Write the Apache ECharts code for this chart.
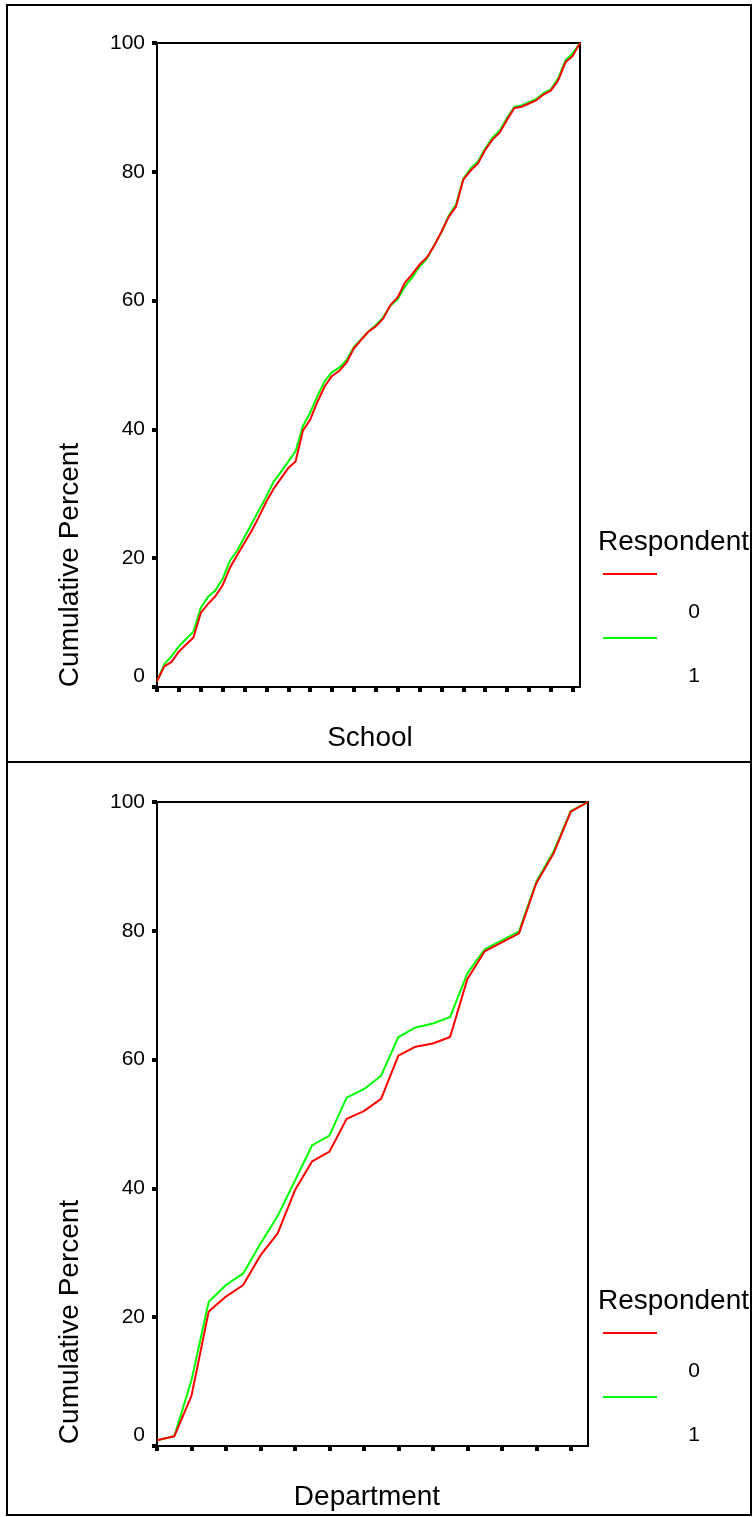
<!DOCTYPE html>
<html>
<head>
<meta charset="utf-8">
<script src="https://cdn.jsdelivr.net/npm/echarts@6/dist/echarts.min.js"></script>
<style>
  html, body { margin: 0; padding: 0; background: #ffffff; }
  #chart { width: 755px; height: 1517px; }
</style>
</head>
<body>
<div id="chart"></div>
<script>
// Cumulative percent by school, split by respondent flag (0 / 1)
const schoolRespondent0 = [
  0.9, 3.2, 3.9, 5.5, 6.6, 7.7, 11.5, 12.9, 14.1, 15.8,
  18.5, 20.5, 22.4, 24.3, 26.5, 28.8, 30.8, 32.4, 34.0, 35.0,
  39.8, 41.5, 44.3, 46.7, 48.3, 49.1, 50.4, 52.6, 53.9, 55.2,
  56.0, 57.2, 59.3, 60.5, 62.8, 64.1, 65.6, 66.7, 68.5, 70.7,
  73.0, 74.6, 78.8, 80.2, 81.3, 83.4, 85.0, 86.1, 88.1, 89.9,
  90.1, 90.6, 91.1, 92.0, 92.6, 94.2, 97.0, 98.0, 100
];
const schoolRespondent1 = [
  0.9, 3.5, 4.8, 6.3, 7.5, 8.6, 12.3, 14.0, 15.0, 16.8,
  19.6, 21.2, 23.3, 25.4, 27.5, 29.6, 31.9, 33.4, 35.0, 36.6,
  40.5, 42.6, 45.2, 47.5, 48.9, 49.6, 50.8, 52.8, 54.0, 55.2,
  56.2, 57.4, 59.2, 60.2, 62.2, 63.6, 65.3, 66.5, 68.6, 70.6,
  73.2, 74.9, 78.9, 80.5, 81.6, 83.6, 85.3, 86.4, 88.4, 90.1,
  90.3, 90.8, 91.3, 92.2, 92.8, 94.5, 97.3, 98.4, 100
];
const schools = schoolRespondent0.map((_, i) => String(i + 1));

// Cumulative percent by department
const deptRespondent0 = [
  0.9, 1.5, 7.8, 20.9, 23.2, 25.0, 29.6, 33.0, 39.7, 44.2,
  45.7, 50.8, 52.0, 53.9, 60.6, 62.0, 62.5, 63.5, 72.5, 76.8,
  78.2, 79.6, 87.4, 92.0, 98.5, 100
];
const deptRespondent1 = [
  0.9, 1.5, 10.2, 22.4, 25.0, 26.8, 31.4, 35.7, 41.2, 46.7,
  48.2, 54.1, 55.4, 57.5, 63.5, 65.0, 65.6, 66.6, 73.4, 77.1,
  78.5, 79.9, 87.6, 92.3, 98.6, 100
];
const departments = deptRespondent0.map((_, i) => String(i + 1));

const yTicks = [0, 20, 40, 60, 80, 100];
const respondentCodes = ['0', '1'];
const lineColors = ['#ff0000', '#00ff00'];

const FONT = '"Liberation Sans", Arial, sans-serif';

function xAxisFor(gridIndex, cats, tickEvery) {
  return {
    type: 'category', gridIndex, data: cats, boundaryGap: false,
    axisLine: { lineStyle: { color: '#000', width: 2 } },
    axisTick: { show: true, inside: false, length: 5, interval: tickEvery - 1,
                lineStyle: { color: '#000', width: 4 } },
    axisLabel: { show: false },
    splitLine: { show: false }
  };
}
function yAxisFor(gridIndex) {
  return {
    type: 'value', gridIndex, min: yTicks[0], max: yTicks[yTicks.length - 1], interval: 20,
    axisLine: { show: true, lineStyle: { color: '#000', width: 2 } },
    axisTick: { show: true, inside: false, length: 5, lineStyle: { color: '#000', width: 4 } },
    axisLabel: { color: '#000', fontFamily: FONT, fontSize: 21, margin: 12,
                 verticalAlignMinLabel: 'bottom' },
    splitLine: { show: false }
  };
}
function lineSeries(name, xi, data, color, z) {
  return {
    name, type: 'line', xAxisIndex: xi, yAxisIndex: xi, data,
    showSymbol: false, symbol: 'none', z,
    lineStyle: { color, width: 2 }, itemStyle: { color },
    animation: false
  };
}

// legend block positioned relative to the bottom edge of its plot
function legendBlock(plotBottom) {
  return [
    { type: 'text', x: 598, y: plotBottom - 145, style: { text: 'Respondent', font: '28px ' + FONT, fill: '#000', verticalAlign: 'middle' } },
    { type: 'line', shape: { x1: 603, y1: plotBottom - 113, x2: 657, y2: plotBottom - 113 }, style: { stroke: lineColors[0], lineWidth: 2 } },
    { type: 'text', x: 694, y: plotBottom - 75, style: { text: respondentCodes[0], font: '21px ' + FONT, fill: '#000', align: 'center', verticalAlign: 'middle' } },
    { type: 'line', shape: { x1: 603, y1: plotBottom - 49, x2: 657, y2: plotBottom - 49 }, style: { stroke: lineColors[1], lineWidth: 2 } },
    { type: 'text', x: 694, y: plotBottom - 11, style: { text: respondentCodes[1], font: '21px ' + FONT, fill: '#000', align: 'center', verticalAlign: 'middle' } }
  ];
}

const chart = echarts.init(document.getElementById('chart'), null, { renderer: 'canvas' });
chart.setOption({
  animation: false,
  backgroundColor: '#ffffff',
  grid: [
    { left: 157, top: 43, width: 423, height: 644, show: true, borderColor: '#000', borderWidth: 2, backgroundColor: 'transparent' },
    { left: 157, top: 802, width: 431, height: 644, show: true, borderColor: '#000', borderWidth: 2, backgroundColor: 'transparent' }
  ],
  xAxis: [xAxisFor(0, schools, 3), xAxisFor(1, departments, 2)],
  yAxis: [yAxisFor(0), yAxisFor(1)],
  series: [
    lineSeries(respondentCodes[1], 0, schoolRespondent1, lineColors[1], 2),
    lineSeries(respondentCodes[0], 0, schoolRespondent0, lineColors[0], 3),
    lineSeries(respondentCodes[1], 1, deptRespondent1, lineColors[1], 2),
    lineSeries(respondentCodes[0], 1, deptRespondent0, lineColors[0], 3)
  ],
  graphic: [
    // outer frame and panel divider
    { type: 'rect', shape: { x: 7, y: 5, width: 744, height: 1510 }, style: { fill: 'none', stroke: '#000', lineWidth: 2 }, z: 10 },
    { type: 'line', shape: { x1: 7, y1: 762, x2: 751, y2: 762 }, style: { stroke: '#000', lineWidth: 2 }, z: 10 },
    // axis titles
    { type: 'text', x: 70, y: 565, rotation: Math.PI / 2,
      style: { text: 'Cumulative Percent', font: '28px ' + FONT, fill: '#000', align: 'center', verticalAlign: 'middle' } },
    { type: 'text', x: 370, y: 738,
      style: { text: 'School', font: '28px ' + FONT, fill: '#000', align: 'center', verticalAlign: 'middle' } },
    { type: 'text', x: 70, y: 1322, rotation: Math.PI / 2,
      style: { text: 'Cumulative Percent', font: '28px ' + FONT, fill: '#000', align: 'center', verticalAlign: 'middle' } },
    { type: 'text', x: 367, y: 1497,
      style: { text: 'Department', font: '28px ' + FONT, fill: '#000', align: 'center', verticalAlign: 'middle' } },
    ...legendBlock(687),
    ...legendBlock(1446)
  ]
});
</script>
</body>
</html>
